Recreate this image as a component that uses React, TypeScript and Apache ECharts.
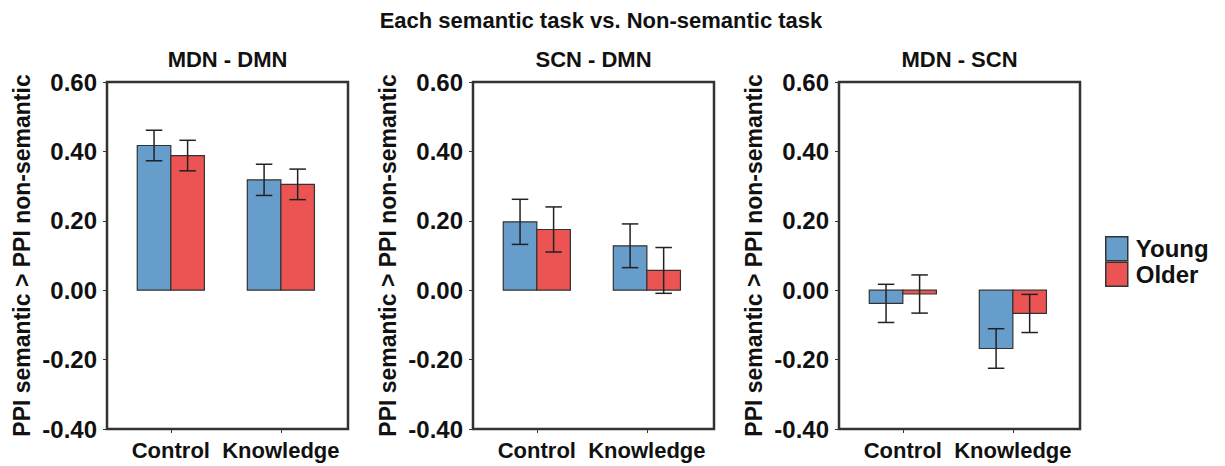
import React, { useEffect, useRef } from "react";
import * as echarts from "echarts";

const mainTitle = "Each semantic task vs. Non-semantic task";
const panelTitles = ["MDN - DMN", "SCN - DMN", "MDN - SCN"];
const categories = ["Control", "Knowledge"];
const groups = ["Young", "Older"];
const yTicks = [-0.4, -0.2, 0, 0.2, 0.4, 0.6];
const yAxisName = "PPI semantic > PPI non-semantic";

// means per panel: [Control, Knowledge]
const youngMean = [
  [0.417, 0.318],
  [0.197, 0.128],
  [-0.038, -0.168],
];
const olderMean = [
  [0.388, 0.305],
  [0.175, 0.057],
  [-0.011, -0.067],
];
// standard errors per panel
const youngSE = [
  [0.044, 0.045],
  [0.065, 0.063],
  [0.055, 0.057],
];
const olderSE = [
  [0.044, 0.044],
  [0.065, 0.066],
  [0.055, 0.055],
];

const BLUE = "#679dcb";
const RED = "#ec5454";
const FONT = "'Liberation Sans', Arial, sans-serif";

const panelLefts = [107, 473, 839];
const PANEL_W = 241;
const PANEL_TOP = 82;
const PANEL_H = 347;
const BAR_W = 0.305;
const CAP_HALF = 0.075;

function makeRender(side: number) {
  return (params: any, api: any) => {
    const x = api.value(0);
    const m = api.value(1);
    const se = api.value(2);
    const x0 = side < 0 ? x - BAR_W : x;
    const x1 = side < 0 ? x : x + BAR_W;
    const xc = (x0 + x1) / 2;
    const pA = api.coord([x0, m]);
    const pB = api.coord([x1, 0]);
    const top = Math.min(pA[1], pB[1]);
    const h = Math.abs(pA[1] - pB[1]);
    const eTop = api.coord([xc, m + se]);
    const eBot = api.coord([xc, m - se]);
    const capL = api.coord([xc - CAP_HALF, 0])[0];
    const capR = api.coord([xc + CAP_HALF, 0])[0];
    const lineStyle = { stroke: "#222", lineWidth: 1.5 };
    return {
      type: "group",
      children: [
        {
          type: "rect",
          shape: { x: pA[0], y: top, width: pB[0] - pA[0], height: h },
          style: { fill: api.visual("color"), stroke: "#333", lineWidth: 1.2 },
        },
        { type: "line", shape: { x1: eTop[0], y1: eTop[1], x2: eBot[0], y2: eBot[1] }, style: lineStyle },
        { type: "line", shape: { x1: capL, y1: eTop[1], x2: capR, y2: eTop[1] }, style: lineStyle },
        { type: "line", shape: { x1: capL, y1: eBot[1], x2: capR, y2: eBot[1] }, style: lineStyle },
      ],
    };
  };
}

export default function App() {
  const ref = useRef<HTMLDivElement>(null);
  useEffect(() => {
    if (!ref.current) return;
    const chart = echarts.init(ref.current, undefined, { renderer: "svg" });
    const grids: any[] = [];
    const xAxes: any[] = [];
    const yAxes: any[] = [];
    const series: any[] = [];
    const titles: any[] = [
      {
        text: mainTitle,
        left: 601,
        top: 9,
        padding: 0,
        textAlign: "center",
        textStyle: { fontFamily: FONT, fontSize: 22, fontWeight: "bold", color: "#111" },
      },
    ];
    for (let p = 0; p < 3; p++) {
      grids.push({
        left: panelLefts[p],
        top: PANEL_TOP,
        width: PANEL_W,
        height: PANEL_H,
        show: true,
        borderColor: "#333",
        borderWidth: 2.5,
        backgroundColor: "transparent",
      });
      titles.push({
        text: panelTitles[p],
        left: panelLefts[p] + PANEL_W / 2,
        top: 48,
        padding: 0,
        textAlign: "center",
        textStyle: { fontFamily: FONT, fontSize: 22, fontWeight: "bold", color: "#111" },
      });
      xAxes.push({
        type: "value",
        gridIndex: p,
        min: -0.58,
        max: 1.61,
        splitLine: { show: false },
        axisLine: { show: false, onZero: false },
        axisTick: { show: true, customValues: [0, 1], length: 4, lineStyle: { color: "#333" } },
        axisLabel: {
          customValues: [0, 1],
          formatter: (v: number) => categories[Math.round(v)] ?? "",
          fontFamily: FONT,
          fontSize: 22,
          fontWeight: "bold",
          color: "#111",
          margin: 10,
        },
      });
      yAxes.push({
        type: "value",
        gridIndex: p,
        min: yTicks[0],
        max: yTicks[yTicks.length - 1],
        interval: 0.2,
        splitLine: { show: false },
        axisLine: { show: true, onZero: false, lineStyle: { color: "#333", width: 1.5 } },
        axisTick: { show: true, length: 4, lineStyle: { color: "#333" } },
        axisLabel: {
          formatter: (v: number) => v.toFixed(2),
          fontFamily: FONT,
          fontSize: 24,
          fontWeight: "bold",
          color: "#111",
          margin: 10,
        },
        name: yAxisName,
        nameLocation: "middle",
        nameRotate: 90,
        nameGap: 74,
        nameTextStyle: { fontFamily: FONT, fontSize: 23, fontWeight: "bold", color: "#111" },
      });
      const yData = categories.map((_, i) => [i, youngMean[p][i], youngSE[p][i]]);
      const oData = categories.map((_, i) => [i, olderMean[p][i], olderSE[p][i]]);
      series.push({
        type: "custom",
        name: groups[0],
        xAxisIndex: p,
        yAxisIndex: p,
        itemStyle: { color: BLUE },
        renderItem: makeRender(-1),
        data: yData,
      });
      series.push({
        type: "custom",
        name: groups[1],
        xAxisIndex: p,
        yAxisIndex: p,
        itemStyle: { color: RED },
        renderItem: makeRender(1),
        data: oData,
      });
    }
    chart.setOption({
      animation: false,
      backgroundColor: "#fff",
      title: titles,
      grid: grids,
      xAxis: xAxes,
      yAxis: yAxes,
      series,
      legend: {
        data: groups.map((g, i) => ({
          name: g,
          icon: "rect",
          itemStyle: { color: i === 0 ? BLUE : RED, borderColor: "#333", borderWidth: 1.5 },
        })),
        orient: "vertical",
        left: 1105,
        top: 236,
        padding: 0,
        itemGap: 0,
        itemWidth: 22,
        itemHeight: 24,
        selectedMode: false,
        textStyle: {
          fontFamily: FONT,
          fontSize: 24,
          fontWeight: "bold",
          color: "#111",
          lineHeight: 24,
          padding: [0, 0, 0, 3],
        },
      },
    });
    return () => chart.dispose();
  }, []);
  return (
    <div
      ref={ref}
      style={{ position: "fixed", left: 0, top: 0, width: 1225, height: 466 }}
    />
  );
}
